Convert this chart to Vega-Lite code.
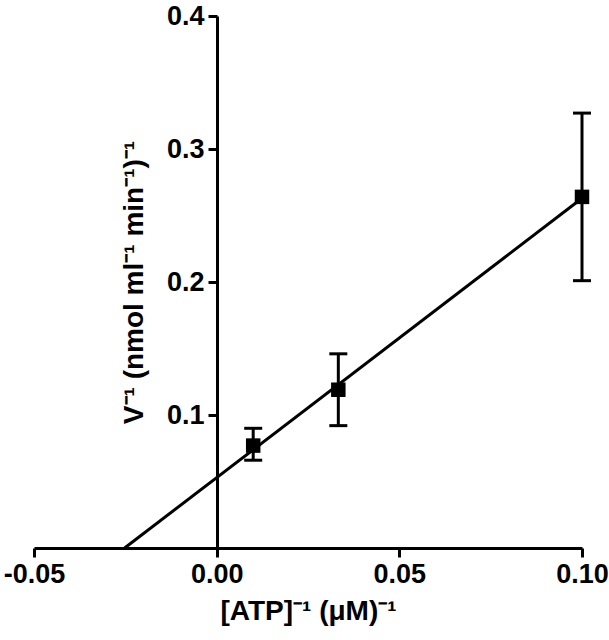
{
  "$schema": "https://vega.github.io/schema/vega-lite/v6.json",
  "width": 548,
  "height": 532,
  "autosize": "none",
  "padding": {"left": 34, "top": 16, "right": 27, "bottom": 92},
  "background": "white",
  "config": {
    "view": {"stroke": null},
    "font": "Liberation Sans",
    "axis": {
      "grid": false,
      "domainColor": "black",
      "domainWidth": 3,
      "tickColor": "black",
      "tickWidth": 3,
      "tickSize": 9,
      "labelColor": "black",
      "labelFont": "Liberation Sans",
      "labelFontWeight": "bold",
      "labelFontSize": 27,
      "titleColor": "black",
      "titleFont": "Liberation Sans",
      "titleFontWeight": "bold",
      "titleFontSize": 28
    }
  },
  "datasets": {
    "points": [
      {"x": 0.01, "y": 0.077, "ylo": 0.066, "yhi": 0.090},
      {"x": 0.0333, "y": 0.119, "ylo": 0.092, "yhi": 0.146},
      {"x": 0.1, "y": 0.264, "ylo": 0.201, "yhi": 0.327}
    ],
    "fit": [
      {"x": -0.0252, "y": 0.0},
      {"x": 0.1, "y": 0.263}
    ]
  },
  "layer": [
    {
      "data": {"name": "fit"},
      "mark": {"type": "line", "color": "black", "strokeWidth": 3},
      "encoding": {
        "x": {
          "field": "x", "type": "quantitative",
          "scale": {"domain": [-0.05, 0.1], "nice": false, "zero": false},
          "axis": {
            "values": [-0.05, 0, 0.05, 0.1],
            "format": ".2f",
            "labelExpr": "replace(datum.label, '−', '-')",
            "labelPadding": 4,
            "title": "[ATP]⁻¹ (μM)⁻¹",
            "titlePadding": 10,
            "labelFlush": false
          }
        },
        "y": {
          "field": "y", "type": "quantitative",
          "scale": {"domain": [0, 0.4], "nice": false},
          "axis": {
            "values": [0.1, 0.2, 0.3, 0.4],
            "format": ".1f",
            "offset": -183,
            "labelPadding": 4,
            "title": "V⁻¹ (nmol ml⁻¹ min⁻¹)⁻¹",
            "titlePadding": 18
          }
        }
      }
    },
    {
      "data": {"name": "points"},
      "mark": {"type": "rule", "color": "black", "strokeWidth": 3},
      "encoding": {
        "x": {"field": "x", "type": "quantitative"},
        "y": {"field": "ylo", "type": "quantitative"},
        "y2": {"field": "yhi"}
      }
    },
    {
      "data": {"name": "points"},
      "mark": {"type": "tick", "orient": "horizontal", "color": "black", "thickness": 3, "size": 18, "opacity": 1},
      "encoding": {
        "x": {"field": "x", "type": "quantitative"},
        "y": {"field": "ylo", "type": "quantitative"}
      }
    },
    {
      "data": {"name": "points"},
      "mark": {"type": "tick", "orient": "horizontal", "color": "black", "thickness": 3, "size": 18, "opacity": 1},
      "encoding": {
        "x": {"field": "x", "type": "quantitative"},
        "y": {"field": "yhi", "type": "quantitative"}
      }
    },
    {
      "data": {"name": "points"},
      "mark": {"type": "square", "color": "black", "opacity": 1, "filled": true, "size": 210},
      "encoding": {
        "x": {"field": "x", "type": "quantitative"},
        "y": {"field": "y", "type": "quantitative"}
      }
    }
  ]
}
